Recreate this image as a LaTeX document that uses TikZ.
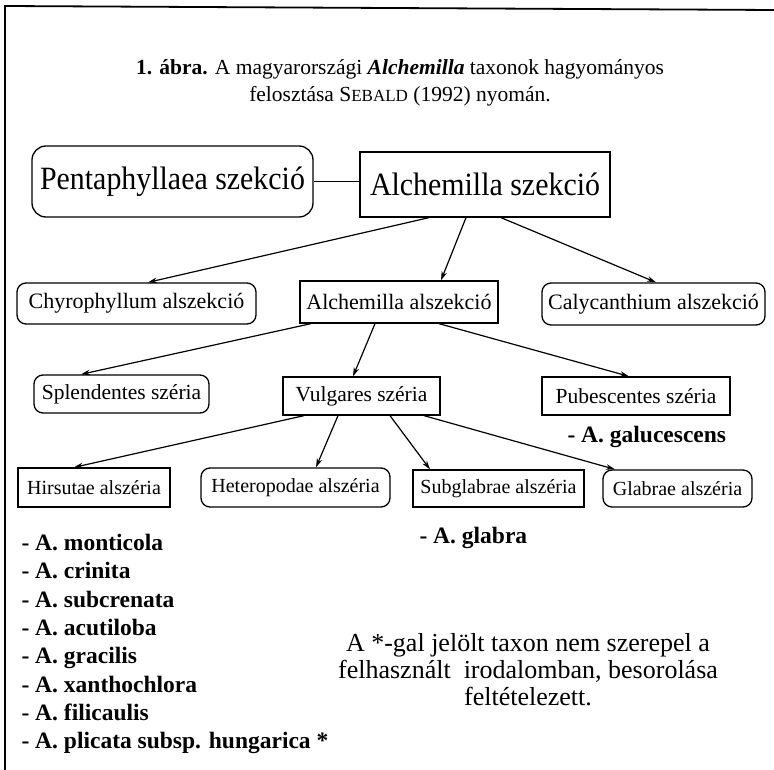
\documentclass[tikz,border=0pt]{standalone}
\usepackage{fontspec}
\setmainfont{Liberation Serif}
\newfontfamily\narrowfont{Liberation Serif}[FakeStretch=0.92]
\usetikzlibrary{positioning,arrows.meta}
\tikzset{
  box/.style={draw,line width=1.3pt,inner sep=0pt},
  rbox/.style={box,rounded corners=9pt},
  edge/.style={line width=1.2pt,-{Stealth[length=9pt,width=5.5pt]}},
  frame/.style={line width=1.8pt},
  big/.style={font=\narrowfont\fontsize{32.5}{38}\selectfont},
  mid/.style={font=\fontsize{22}{26}\selectfont},
  ser/.style={font=\fontsize{21.5}{25}\selectfont},
  sml/.style={font=\fontsize{20}{24}\selectfont},
  spec/.style={font=\fontsize{23.5}{28.3}\selectfont\bfseries,align=left,anchor=west},
  note/.style={font=\fontsize{26}{27}\selectfont,align=center}
}

\begin{document}
\begin{tikzpicture}[x=1pt,y=-1pt]
  \useasboundingbox (0,0) rectangle (774,770);
  \draw[frame] (774,10) -- (5,6) -- (5,770);
  \node[align=center,font=\fontsize{21.5}{27}\selectfont] (title) at (400,83) {\textbf{1. ábra.} A magyarországi \textbf{\textit{Alchemilla}} taxonok hagyományos\\felosztása S{\fontsize{17}{20}\selectfont EBALD} (1992) nyomán.};
  \node[rbox,big,rounded corners=14pt,minimum width=281pt,minimum height=71pt] (pent) at (172.5,181.5) {Pentaphyllaea szekció};
  \node[box,big,minimum width=250pt,minimum height=65pt] (asz) at (485,184.5) {Alchemilla szekció};
  \node[rbox,mid,minimum width=239pt,minimum height=41pt] (chy) at (136.5,303.5) {Chyrophyllum alszekció};
  \node[box,mid,minimum width=198pt,minimum height=42pt] (aal) at (399,302) {Alchemilla alszekció};
  \node[rbox,mid,minimum width=223pt,minimum height=42pt] (caly) at (653.5,304) {Calycanthium alszekció};
  \node[rbox,ser,minimum width=175pt,minimum height=38pt] (splen) at (121.5,394) {Splendentes széria};
  \node[box,ser,minimum width=157pt,minimum height=38pt] (vulg) at (361.5,396) {Vulgares széria};
  \node[box,ser,minimum width=188pt,minimum height=38pt] (pub) at (636,396) {Pubescentes széria};
  \node[box,sml,minimum width=152pt,minimum height=39pt] (hirs) at (94,487.5) {Hirsutae alszéria};
  \node[rbox,sml,minimum width=189pt,minimum height=39pt] (hetero) at (295.5,487.5) {Heteropodae alszéria};
  \node[box,sml,minimum width=171pt,minimum height=37pt] (subgl) at (498.5,488.5) {Subglabrae alszéria};
  \node[rbox,sml,minimum width=149pt,minimum height=37pt] (glab) at (677.5,488.5) {Glabrae alszéria};
  \draw[line width=1.3pt] (pent.east) -- (pent.east -| asz.west);
  \draw[edge] ([xshift=-56pt]asz.south) -- ([xshift=11.5pt]chy.north); \draw[edge] ([xshift=-19pt]asz.south) -- ([xshift=42pt]aal.north); \draw[edge] ([xshift=16pt]asz.south) -- ([xshift=2.5pt]caly.north);
  \draw[edge] ([xshift=-88pt]aal.south) -- ([xshift=-40.5pt]splen.north); \draw[edge] ([xshift=-24pt]aal.south) -- ([xshift=-8.5pt]vulg.north); \draw[edge] ([xshift=40pt]aal.south) -- ([xshift=-7pt]pub.north);
  \draw[edge] ([xshift=-57.5pt]vulg.south) -- ([xshift=-20pt]hirs.north); \draw[edge] ([xshift=-23.5pt]vulg.south) -- ([xshift=20.5pt]hetero.north);
  \draw[edge] ([xshift=28.5pt]vulg.south) -- ([xshift=-68.5pt]subgl.north); \draw[edge] ([xshift=62.5pt]vulg.south) -- ([xshift=-62.5pt]glab.north);
  \node[spec] (galu) at (564,437) {- A. galucescens};
  \node[spec] (glabra) at (416,538) {- A. glabra};
  \node[spec] (taxa) at (18,644) {- A. monticola\\- A. crinita\\- A. subcrenata\\- A. acutiloba\\- A. gracilis\\- A. xanthochlora\\- A. filicaulis\\- A. plicata subsp. hungarica *};
  \node[note] (remark) at (528,670) {A *-gal jelölt taxon nem szerepel a\\felhasznált\ \ irodalomban, besorolása\\feltételezett.};
\end{tikzpicture}
\end{document}
